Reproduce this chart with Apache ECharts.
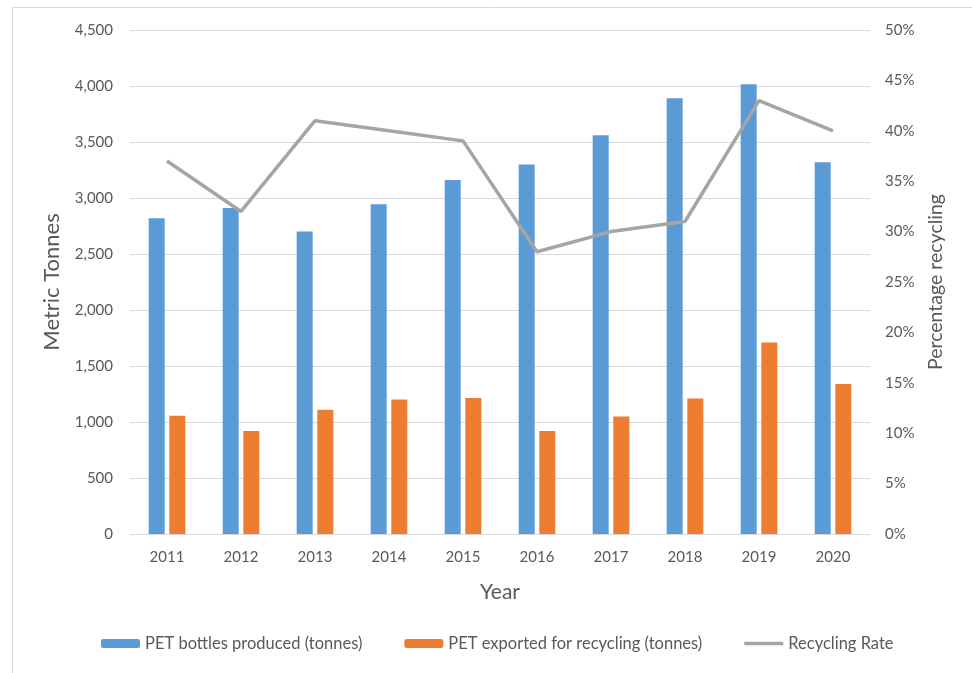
<!DOCTYPE html>
<html>
<head>
<meta charset="utf-8">
<script src="https://cdn.jsdelivr.net/npm/echarts@6/dist/echarts.min.js"></script>
<style>
  html, body { margin: 0; padding: 0; background: #fff; }
  #chart { width: 972px; height: 673px; }
</style>
</head>
<body>
<div id="chart"></div>
<script>
// PET bottle production vs. export for recycling, 2011–2020
const years = ['2011', '2012', '2013', '2014', '2015', '2016', '2017', '2018', '2019', '2020'];
const bottlesProduced = [2820, 2910, 2700, 2945, 3160, 3300, 3560, 3890, 4015, 3320];
const exportedForRecycling = [1055, 920, 1110, 1200, 1215, 920, 1050, 1210, 1710, 1340];
const recyclingRate = [37, 32, 41, 40, 39, 28, 30, 31, 43, 40];

const FONT = 'Lato, "Open Sans", sans-serif';
const TEXT = '#595959';
const GRID = '#d9d9d9';

const chart = echarts.init(document.getElementById('chart'), null, { renderer: 'canvas' });

chart.setOption({
  backgroundColor: '#ffffff',
  animation: false,
  textStyle: { fontFamily: FONT, color: TEXT },
  graphic: [{
    type: 'rect',
    shape: { x: 12.5, y: 7.5, width: 1000, height: 700 },
    style: { fill: 'none', stroke: '#d9d9d9', lineWidth: 1 },
    silent: true
  }],
  grid: { left: 130, right: 102, top: 30, height: 504 },
  legend: {
    left: 101,
    top: 635,
    padding: 0,
    itemWidth: 39,
    itemHeight: 9,
    itemGap: 42,
    symbolKeepAspect: true,
    textStyle: { fontFamily: FONT, fontSize: 16.5, color: TEXT },
    data: [
      'PET bottles produced (tonnes)',
      'PET exported for recycling (tonnes)',
      { name: 'Recycling Rate', icon: 'path://M0,0 L39,0 L39,3.5 L0,3.5 Z' }
    ]
  },
  xAxis: {
    type: 'category',
    data: years,
    name: 'Year',
    nameLocation: 'middle',
    nameGap: 48,
    nameTextStyle: { fontFamily: FONT, fontSize: 21, color: TEXT },
    axisLine: { lineStyle: { color: GRID, width: 1 } },
    axisTick: { show: false },
    axisLabel: { fontFamily: FONT, fontSize: 15, color: TEXT, margin: 16 }
  },
  yAxis: [{
    type: 'value',
    min: 0, max: 4500, interval: 500,
    name: 'Metric Tonnes',
    nameLocation: 'middle',
    nameGap: 67,
    nameTextStyle: { fontFamily: FONT, fontSize: 22, color: TEXT },
    axisLine: { show: false },
    axisTick: { show: false },
    splitLine: { lineStyle: { color: GRID, width: 1 } },
    axisLabel: {
      fontFamily: FONT, fontSize: 15, color: TEXT, margin: 17,
      formatter: v => v.toLocaleString('en-US')
    }
  }, {
    type: 'value',
    min: 0, max: 50, interval: 5,
    name: 'Percentage recycling',
    nameLocation: 'middle',
    nameGap: 55,
    nameRotate: 90,
    nameTextStyle: { fontFamily: FONT, fontSize: 19.5, color: TEXT },
    axisLine: { show: false },
    axisTick: { show: false },
    splitLine: { show: false },
    axisLabel: { fontFamily: FONT, fontSize: 15, color: TEXT, margin: 15, formatter: '{value}%' }
  }],
  series: [{
    name: 'PET bottles produced (tonnes)',
    type: 'bar',
    data: bottlesProduced,
    barWidth: 16,
    barGap: '29%',
    itemStyle: { color: '#5b9bd5' }
  }, {
    name: 'PET exported for recycling (tonnes)',
    type: 'bar',
    data: exportedForRecycling,
    barWidth: 16,
    itemStyle: { color: '#ed7d31' }
  }, {
    name: 'Recycling Rate',
    type: 'line',
    yAxisIndex: 1,
    data: recyclingRate,
    symbol: 'none',
    lineStyle: { color: '#a5a5a5', width: 3.5 },
    itemStyle: { color: '#a5a5a5' }
  }]
});
</script>
</body>
</html>
